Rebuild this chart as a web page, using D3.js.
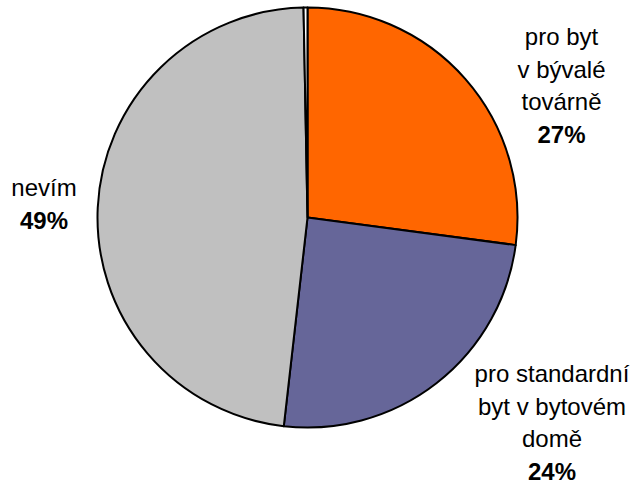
<!DOCTYPE html>
<html><head><meta charset="utf-8">
<script src="https://cdn.jsdelivr.net/npm/d3@7"></script>
<style>html,body{margin:0;padding:0;background:#fff;}svg{display:block;}</style>
</head><body>
<script>
const categories = ["pro byt v bývalé továrně", "pro standardní byt v bytovém domě", "nevím", "ostatní"];
const values = [27.1, 24.7, 47.9, 0.3];
const percentLabels = ["27%", "24%", "49%", ""];
const labelLines = [["pro byt", "v bývalé", "továrně"], ["pro standardní", "byt v bytovém", "domě"], ["nevím"], []];
const colors = ["#FF6600", "#666699", "#C0C0C0", "#FFFFFF"];

const W = 635, H = 484;
const cx = 307.5, cy = 217.5, r = 210;
const svg = d3.select("body").append("svg").attr("width", W).attr("height", H);
const g = svg.append("g").attr("transform", `translate(${cx},${cy})`);
const pie = d3.pie().sort(null).value(d => d)(values);
const arc = d3.arc().innerRadius(0).outerRadius(r);
g.selectAll("path").data(pie).enter().append("path")
  .attr("d", arc).attr("fill", (d, i) => colors[i])
  .attr("stroke", "#000").attr("stroke-width", 2).attr("stroke-linejoin", "round");

// label anchor positions (center x, first baseline)
const labelPos = [[561.5, 45], [552, 382], [44, 196], null];
const lh = 32.5;
labelPos.forEach((p, i) => {
  if (!p) return;
  const t = svg.append("text").attr("text-anchor", "middle")
    .attr("font-family", "'Liberation Sans', Arial, sans-serif").attr("font-size", 24).attr("fill", "#000");
  labelLines[i].forEach((ln, j) => {
    t.append("tspan").attr("x", p[0]).attr("y", p[1] + j * lh).text(ln);
  });
  t.append("tspan").attr("x", p[0]).attr("y", p[1] + labelLines[i].length * lh)
    .attr("font-weight", "bold").text(percentLabels[i]);
});
</script>
</body></html>
